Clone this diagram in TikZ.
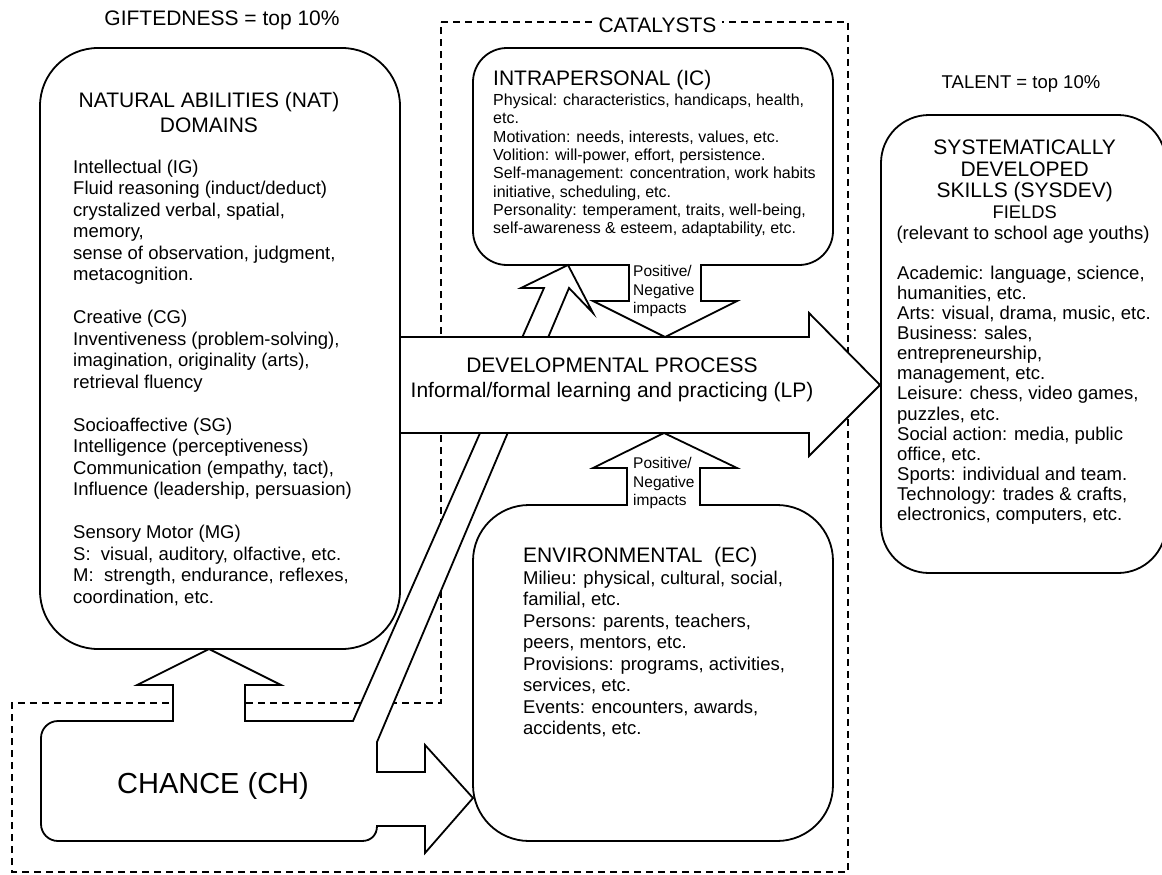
\documentclass[tikz,border=0pt]{standalone}
\usepackage{fontspec}
\setmainfont{Liberation Sans}
\begin{document}
\begin{tikzpicture}[x=1pt,y=-1pt,
  box/.style={draw, fill=white, line width=1.8pt, inner sep=0pt, outer sep=0pt},
  blk/.style={draw, fill=white, line width=1.8pt, line join=miter, miter limit=10},
  blkfill/.style={fill=white, draw=none},
  blkline/.style={draw, line width=1.8pt, line join=miter, miter limit=10},
  dsh/.style={line width=1.4pt, dash pattern=on 7pt off 5pt},
  ttl/.style={font=\fontsize{21}{25}\selectfont, inner sep=0pt},
  txt/.style={font=\fontsize{18.5}{21.5}\selectfont, inner sep=0pt, align=left, anchor=base west},
  small/.style={font=\fontsize{16}{18.3}\selectfont, inner sep=0pt, align=left, anchor=base west},
  imp/.style={font=\fontsize{15.5}{18.5}\selectfont, inner sep=0pt, align=left, anchor=base west}
]
\clip (0,0) rectangle (1162,875);
\fill[white] (0,0) rectangle (1162,875);

% catalysts dashed frame
\draw[dsh] (441,22) -- (848,22) -- (848,872) -- (12,872) -- (12,703) -- (441,703) -- cycle;

% boxes
\node[box, rounded corners=58pt, minimum width=360pt, minimum height=601pt] (nat) at (220,348.5) {};
\node[box, rounded corners=34pt, minimum width=360pt, minimum height=217pt] (ic) at (653,156.5) {};
\node[box, rounded corners=56pt, minimum width=360pt, minimum height=336pt] (env) at (653,673) {};
\node[box, rounded corners=48pt, minimum width=285pt, minimum height=458pt] (sys) at (1023.5,344) {};

% chance shape with its three arrows
\filldraw[blk] (58,721) -- (173,721) -- (173,685) -- (137,685) -- (209,649) -- (281,685) -- (245,685) -- (245,721)
  -- (353,721) -- (544,288) -- (521,288) -- (568,265) -- (593,313) -- (569,288) -- (377,742)
  -- (377,772) -- (425,772) -- (425,745) -- (473,798) -- (425,853) -- (425,826) -- (377,826)
  .. controls (377,835) and (371,841) .. (362,841) -- (58,841)
  .. controls (48.6,841) and (41,833.4) .. (41,824) -- (41,738)
  .. controls (41,728.6) and (48.6,721) .. (58,721) -- cycle;

% developmental process arrow
\filldraw[blk] (400,337) -- (809,337) -- (809,313) -- (880,385) -- (809,456) -- (809,433) -- (400,433) -- cycle;

% intrapersonal impacts arrow
\fill[blkfill] (629,262) -- (629,301) -- (593,301) -- (665,337) -- (737,301) -- (701,301) -- (701,262) -- cycle;
\draw[blkline] (629,264.1) -- (629,301) -- (593,301) -- (665,337) -- (737,301) -- (701,301) -- (701,264.1);

% environmental impacts arrow
\fill[blkfill] (627,508) -- (627,468) -- (593,468) -- (664,433) -- (737,468) -- (700,468) -- (700,508) -- cycle;
\draw[blkline] (627,505.9) -- (627,468) -- (593,468) -- (664,433) -- (737,468) -- (700,468) -- (700,505.9);

% headings
\node[ttl, anchor=base] (gift) at (222,25.5) {GIFTEDNESS = top 10\%};
\node[ttl, anchor=base, fill=white, inner xsep=6pt, inner ysep=2pt] (cat) at (657.5,32.5) {CATALYSTS};
\node[font=\fontsize{18.5}{21.5}\selectfont, inner sep=0pt, anchor=base] (tal) at (1021,88.5) {TALENT = top 10\%};

% NAT text (anchor base = last line)
\node[ttl, align=center, anchor=base] (natt) at (209,132.5) {NATURAL ABILITIES (NAT)\\DOMAINS};
\node[txt] (ig) at (73,280.5) {Intellectual (IG)\\Fluid reasoning (induct/deduct)\\crystalized verbal, spatial,\\memory,\\sense of observation, judgment,\\metacognition.};
\node[txt] (cg) at (73,388) {Creative (CG)\\Inventiveness (problem-solving),\\imagination, originality (arts),\\retrieval fluency};
\node[txt] (sg) at (73,495.5) {Socioaffective (SG)\\Intelligence (perceptiveness)\\Communication (empathy, tact),\\Influence (leadership, persuasion)};
\node[txt] (mg) at (73,603) {Sensory Motor (MG)\\S:~ visual, auditory, olfactive, etc.\\M:~ strength, endurance, reflexes,\\coordination, etc.};

% IC text
\node[ttl, anchor=base west] (ict) at (493,85.5) {INTRAPERSONAL (IC)};
\node[small] (icb) at (493,233.6) {Physical: characteristics, handicaps, health,\\etc.\\Motivation: needs, interests, values, etc.\\Volition: will-power, effort, persistence.\\Self-management: concentration, work habits\\initiative, scheduling, etc.\\Personality: temperament, traits, well-being,\\self-awareness \& esteem, adaptability, etc.};
\node[imp] (imp1) at (633,313.5) {Positive/\\Negative\\impacts};

% DP text
\node[ttl, align=center, anchor=base] (dp) at (612,397.5) {DEVELOPMENTAL PROCESS\\Informal/formal learning and practicing (LP)};

% ENV text
\node[imp] (imp2) at (633,505.5) {Positive/\\Negative\\impacts};
\node[ttl, anchor=base west] (envt) at (523,562.5) {ENVIRONMENTAL~ (EC)};
\node[txt] (envb) at (523,734.5) {Milieu: physical, cultural, social,\\familial, etc.\\Persons: parents, teachers,\\peers, mentors, etc.\\Provisions: programs, activities,\\services, etc.\\Events: encounters, awards,\\accidents, etc.};

% SYSDEV text
\node[ttl, align=center, anchor=base, font=\fontsize{21}{21.5}\selectfont] (syst) at (1024.7,197.5) {SYSTEMATICALLY\\DEVELOPED\\SKILLS (SYSDEV)};
\node[font=\fontsize{18.3}{21.5}\selectfont, inner sep=0pt, anchor=base] (fld) at (1024.7,218.5) {FIELDS};
\node[font=\fontsize{18.5}{21.5}\selectfont, inner sep=0pt, anchor=base] (rel) at (1023,239) {(relevant to school age youths)};
\node[txt, font=\fontsize{18.5}{20.15}\selectfont] (sysb) at (897,520.8) {Academic: language, science,\\humanities, etc.\\Arts: visual, drama, music, etc.\\Business: sales,\\entrepreneurship,\\management, etc.\\Leisure: chess, video games,\\puzzles, etc.\\Social action: media, public\\office, etc.\\Sports: individual and team.\\Technology: trades \& crafts,\\electronics, computers, etc.};

% chance text
\node[font=\fontsize{29}{34}\selectfont, inner sep=0pt, anchor=base] (ch) at (213,793.5) {CHANCE (CH)};
\end{tikzpicture}
\end{document}
